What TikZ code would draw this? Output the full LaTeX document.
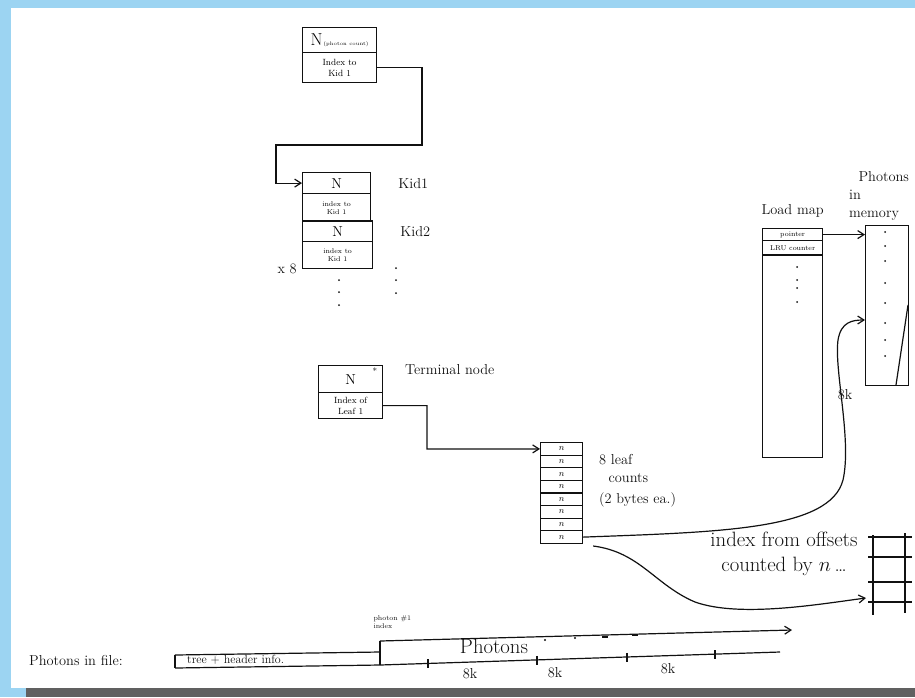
\documentclass[tikz,border=0pt]{standalone}
\usepackage{tikz}
\usetikzlibrary{calc,arrows.meta,positioning}
\definecolor{framec}{HTML}{9CD4F2}
\definecolor{barc}{HTML}{606060}
\definecolor{inkc}{HTML}{111111}
\tikzset{
  ar/.style={-{Straight Barb[length=2.2mm,width=2.8mm]},line width=1.2pt,inkc},
  ln/.style={line width=1.2pt,inkc},
  cell/.style={draw=inkc,line width=1.2pt,anchor=north west,inner sep=0pt,align=center,font=\scriptsize},
  lbl/.style={font=\Large,inkc,inner sep=1pt}
}
\begin{document}
\begin{tikzpicture}[x=1pt,y=-1pt]
\useasboundingbox (0,0) rectangle (915,697);
\fill[framec] (0,0) rectangle (915,8);
\fill[framec] (0,0) rectangle (11,697);
\fill[framec] (0,688) rectangle (26,697);
\fill[barc] (26,688) rectangle (915,697);
\node[cell,minimum width=74,minimum height=25,font=\tiny] (rootN) at (302,27) {{\LARGE N}\,(photon count)};
\node[cell,minimum width=74,minimum height=30,font=\small] (rootIdx) at (302,52) {Index to\\ Kid 1};
\node[cell,minimum width=68,minimum height=21,font=\Large] (kidN1) at (302,172) {N};
\node[cell,minimum width=68,minimum height=28] (kidIdx1) at (302,193) {index to\\ Kid 1};
\node[cell,minimum width=70,minimum height=20,font=\Large] (kidN2) at (302,221) {N};
\node[cell,minimum width=70,minimum height=27] (kidIdx2) at (302,241) {index to\\ Kid 1};
\draw[inkc,line width=2pt] (kidN2.north west) -- (kidN2.north east);
\node[lbl,right=26pt of kidN1] (kid1lbl) {Kid1};
\node[lbl,right=26pt of kidN2] (kid2lbl) {Kid2};
\node[lbl,left=4pt of kidIdx2.south west] (x8lbl) {x 8};
\coordinate (rootbend) at (422,145); \coordinate (kidturn) at (276,145);
\draw[ar] (rootIdx.east) -| (rootbend) -- (kidturn) |- (kidN1.west);
\foreach \y in {280,292,305} \fill[inkc] (339,\y) circle (1);
\foreach \y in {268,280,293} \fill[inkc] (396,\y) circle (1);
\node[cell,minimum width=64,minimum height=27,font=\Large] (termN) at (318,365) {N};
\node[font=\small,inkc] (termstar) at (375,371) {*};
\node[cell,minimum width=64,minimum height=26,font=\small] (termIdx) at (318,392) {Index of\\ Leaf 1};
\node[lbl,anchor=west] (termlbl) at (404,370) {Terminal node};
\foreach \i in {1,...,8}
  \node[cell,minimum width=42,minimum height=12.6,font=\small] (leaf\i) at (540,{442+(\i-1)*12.6}) {$n$};
\coordinate (tbend) at (427,449);
\draw[ar] (termIdx.east) -| (tbend) -- (leaf1.west);
\node[lbl,anchor=west,align=left] (leaflbl) at (598,481) {8 leaf\\ \ \ counts\\[3pt] (2 bytes ea.)};
\node[cell,minimum width=60,minimum height=12] (lmptr) at (762,228) {pointer};
\node[cell,minimum width=60,minimum height=15] (lmlru) at (762,240) {LRU counter};
\node[cell,minimum width=60,minimum height=202] (lmbody) at (762,255) {};
\draw[inkc,line width=2pt] (lmbody.north west) -- (lmbody.north east);
\node[lbl,above=10pt of lmptr] (lmlbl) {Load map};
\foreach \y in {267,280,288,302} \fill[inkc] (797,\y) circle (1);
\node[cell,minimum width=43,minimum height=160] (memcol) at (865,225) {};
\node[lbl,anchor=west,align=left] (memlbl) at (848,196) {\ \ Photons\\ in\\ memory};
\draw[ar] (lmptr.east) -- (memcol.west |- lmptr.east);
\foreach \y in {232,246,261,283,303,323,340,356} \fill[inkc] (885,\y) circle (1);
\draw[ln] (908,305) -- (896,385);
\node[lbl] (mem8k) at (845,395) {8k};
\coordinate (memin) at (865,320);
\draw[ar] (leaf8.east) .. controls (720,532) and (830,530) .. (843,480)
  .. controls (852,440) and (834,370) .. (838,340)
  .. controls (841,322) and (852,320) .. (memin);
\draw[ln] (873,535) -- (873,615);
\draw[ln] (905,533) -- (905,613);
\foreach \y in {537,557,582,602} \draw[ln] (868,\y) -- (912,\y);
\coordinate (ladderin) at (866,598);
\draw[ar] ($(leaf8.south east)+(10,2)$) .. controls (640,552) and (655,585) .. (695,602)
  .. controls (740,618) and (820,604) .. (ladderin);
\node[lbl,font=\huge,align=center] (offlbl) at (784,554) {index from offsets\\ counted by $n$\,\dots};
\node[lbl,anchor=west] (filelbl) at (28,660) {Photons in file:};
\draw[ln] (175,655) -- (380,652);
\draw[ln] (175,668) -- (380,665);
\draw[ln] (175,655) -- (175,668);
\draw[ln] (380,641) -- (380,665);
\draw[ln] (380,665) -- (780,652);
\draw[ar] (380,641) -- (792,630);
\node[lbl,font=\large,anchor=west] (hdrlbl) at (186,660) {tree + header info.};
\node[inkc,font=\scriptsize,align=left,anchor=west] (idxlbl) at (370,622) {photon \#1\\ index};
\node[lbl,font=\huge] (tapelbl) at (494,646) {Photons};
\foreach \x/\y in {545/640,575/638} \fill[inkc] (\x,\y) circle (1.2);
\foreach \x/\y in {605/637,635/635} \draw[ln] (\x-3,\y) -- (\x+3,\y);
\foreach \x in {428,537,627,715} \draw[ln] (\x,{665-(\x-380)*13/400-4}) -- (\x,{665-(\x-380)*13/400+5});
\node[lbl] (k1) at (470,674) {8k};
\node[lbl] (k2) at (555,673) {8k};
\node[lbl] (k3) at (668,669) {8k};
\end{tikzpicture}
\end{document}
